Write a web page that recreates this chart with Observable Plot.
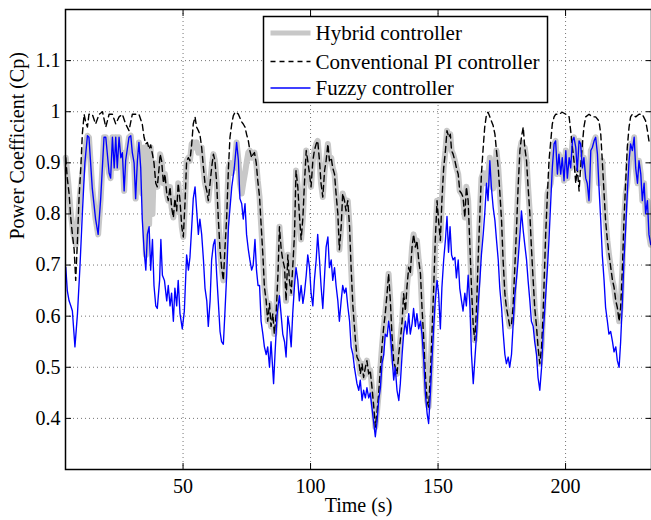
<!DOCTYPE html>
<html>
<head>
<meta charset="utf-8">
<script src="https://cdn.jsdelivr.net/npm/d3@7"></script>
<script src="https://cdn.jsdelivr.net/npm/@observablehq/plot@0.6"></script>
<style>
  html, body { margin: 0; padding: 0; background: #fff; }
  #wrap { position: relative; width: 651px; height: 520px; overflow: hidden; }
  #legend { position: absolute; left: 0; top: 0; pointer-events: none; }
</style>
</head>
<body>
<div id="wrap"></div>
<script>
// ---- data: [time (s), Cp] ----
const fuzzy = [
 [4.0,.696],[4.6,.65],[5.3,.63],[6.0,.62],[6.6,.61],[7.6,.54],[8.6,.605],[9.6,.70],[10.5,.80],[11.5,.90],
 [12.5,.953],[13.1,.95],[14.4,.85],[15.7,.79],[16.7,.76],[17.7,.83],[19.0,.95],[19.7,.95],[21.0,.88],[21.6,.87],
 [22.3,.95],[23.0,.89],[23.6,.95],[24.2,.89],[24.9,.95],[25.6,.91],[26.2,.92],[26.9,.845],[27.5,.905],[28.8,.95],
 [29.5,.953],[30.1,.92],[30.8,.90],[31.4,.83],[32.1,.905],[32.7,.94],[33.4,.89],[34.0,.79],[34.7,.73],[35.4,.69],
 [36.0,.76],[36.7,.775],[37.3,.69],[38.0,.75],[38.6,.66],[39.3,.62],[39.9,.615],[40.8,.67],[41.3,.75],[41.9,.68],
 [42.7,.67],[43.6,.63],[44.2,.66],[44.9,.62],[45.5,.645],[46.2,.59],[46.8,.655],[47.5,.62],[48.1,.67],[48.8,.605],
 [49.7,.575],[50.5,.61],[51.4,.72],[52.1,.69],[52.7,.715],[53.4,.775],[54.0,.83],[54.7,.853],[55.3,.81],[56.0,.76],
 [56.6,.79],[57.3,.76],[58.0,.71],[58.6,.655],[59.3,.63],[59.9,.58],[60.6,.63],[61.2,.71],[61.9,.74],[62.5,.75],
 [63.2,.68],[63.8,.63],[64.5,.57],[65.1,.55],[65.8,.545],[66.4,.605],[67.1,.68],[67.8,.775],[69.1,.853],[70.1,.89],
 [71.0,.94],[71.7,.905],[72.3,.83],[73.0,.82],[73.6,.79],[74.3,.82],[74.9,.76],[75.6,.73],[76.2,.71],[76.9,.69],
 [77.5,.70],[78.2,.75],[78.8,.69],[79.4,.66],[80.0,.66],[80.6,.59],[81.3,.565],[81.9,.54],[82.6,.525],[83.2,.54],
 [83.9,.50],[84.5,.55],[85.5,.468],[86.1,.53],[86.9,.605],[87.8,.64],[88.5,.60],[89.1,.565],[89.8,.55],[90.4,.52],
 [91.1,.60],[91.7,.58],[92.4,.54],[93.0,.605],[93.7,.66],[94.3,.695],[95.0,.67],[95.6,.63],[96.3,.66],[97.0,.625],
 [97.6,.645],[98.3,.68],[98.9,.72],[99.6,.695],[100.2,.645],[100.9,.62],[101.5,.67],[102.2,.71],[102.8,.76],[103.5,.71],
 [104.1,.66],[104.8,.615],[105.5,.68],[106.1,.735],[106.8,.755],[107.4,.695],[108.1,.71],[108.7,.67],[109.4,.695],[110.0,.66],
 [110.7,.63],[111.3,.59],[112.0,.63],[112.6,.66],[113.3,.645],[113.9,.655],[114.6,.62],[115.3,.59],[115.9,.54],[116.6,.525],
 [117.2,.50],[118.2,.468],[118.9,.455],[119.5,.475],[120.2,.435],[120.8,.455],[121.5,.44],[122.1,.46],[122.8,.44],[123.4,.45],
 [124.1,.42],[124.8,.39],[125.4,.364],[126.1,.395],[126.7,.435],[127.4,.46],[128.0,.507],[128.7,.525],[129.3,.565],[130.0,.56],
 [130.6,.59],[131.3,.565],[131.9,.525],[132.6,.475],[133.2,.50],[133.9,.455],[134.6,.435],[135.2,.468],[135.9,.525],[136.5,.565],
 [137.2,.59],[137.8,.565],[138.5,.605],[139.1,.565],[139.8,.585],[140.4,.615],[141.1,.58],[141.7,.605],[142.4,.575],[143.1,.59],
 [143.7,.565],[144.4,.513],[145.0,.45],[145.7,.41],[146.3,.39],[147.0,.45],[147.6,.513],[148.3,.58],[148.9,.63],[149.6,.67],
 [150.2,.645],[150.9,.575],[151.5,.655],[152.2,.71],[152.9,.75],[153.5,.795],[154.1,.725],[154.7,.775],[155.3,.72],[155.9,.71],
 [156.6,.715],[157.2,.675],[157.9,.71],[158.5,.655],[159.2,.63],[159.8,.61],[160.5,.645],[161.1,.62],[161.8,.68],[162.5,.62],
 [163.1,.525],[163.8,.468],[164.4,.513],[165.1,.565],[165.7,.62],[166.4,.67],[167.0,.72],[167.7,.76],[168.3,.80],[169.0,.86],
 [169.6,.826],[170.3,.904],[170.9,.853],[171.6,.813],[172.3,.787],[172.9,.75],[173.6,.71],[174.2,.655],[174.9,.617],[175.5,.57],
 [176.2,.525],[176.8,.507],[177.5,.52],[178.1,.50],[178.8,.525],[179.4,.58],[180.1,.64],[180.8,.675],[181.4,.71],[182.1,.76],
 [182.7,.806],[183.4,.767],[184.0,.74],[184.7,.71],[185.3,.67],[186.0,.63],[186.6,.59],[187.3,.58],[187.9,.55],[188.6,.525],
 [189.2,.48],[189.9,.455],[190.6,.50],[191.2,.565],[191.9,.617],[192.4,.655],[192.9,.695],[193.5,.75],[194.2,.826],[194.8,.89],
 [195.5,.937],[196.1,.943],[196.8,.878],[197.4,.917],[198.1,.878],[198.7,.91],[199.4,.865],[200.1,.924],[200.7,.87],[201.4,.91],
 [202.0,.89],[202.7,.943],[203.3,.95],[204.0,.93],[204.6,.885],[205.3,.943],[205.9,.937],[206.6,.89],[207.2,.91],[207.9,.87],
 [208.5,.86],[209.2,.826],[209.9,.924],[210.5,.93],[211.2,.943],[211.8,.95],[212.5,.917],[213.1,.853],[213.8,.787],[214.4,.72],
 [215.1,.67],[215.7,.617],[216.4,.59],[217.0,.565],[217.7,.57],[218.4,.55],[219.0,.53],[219.7,.54],[220.3,.513],[221.0,.50],
 [221.6,.55],[222.3,.63],[222.9,.71],[223.6,.775],[224.2,.84],[224.9,.904],[225.5,.937],[226.2,.924],[226.9,.95],[227.5,.89],
 [228.2,.86],[228.8,.904],[229.5,.878],[230.1,.826],[230.8,.86],[231.4,.80],[232.1,.826],[232.7,.76],[233.4,.74]
];
const conventionalPI = [
 [4.0,.91],[4.6,.87],[5.3,.84],[6.0,.79],[6.6,.76],[7.3,.73],[7.9,.67],[8.6,.75],[9.2,.83],[9.9,.89],
 [10.5,.956],[11.2,.995],[11.8,.98],[12.5,.97],[13.1,.995],[14.4,.995],[15.7,.976],[17.1,.995],[18.4,1.0],[19.7,.97],
 [21.0,.995],[22.3,.995],[23.6,.976],[24.9,.99],[26.2,.995],[27.5,.976],[28.8,.963],[30.1,.995],[31.4,.995],[32.7,.995],
 [34.0,.976],[34.7,.95],[35.4,.937],[36.0,.94],[36.7,.927],[37.3,.935],[38.0,.917],[38.6,.90],[39.3,.86],[39.9,.853],
 [40.6,.89],[41.0,.917],[41.6,.904],[42.3,.86],[42.9,.878],[43.6,.84],[44.2,.826],[44.9,.853],[45.5,.813],[46.2,.793],
 [46.8,.83],[47.5,.806],[48.1,.86],[48.8,.826],[49.5,.775],[50.1,.755],[50.8,.826],[51.4,.904],[52.1,.91],[52.7,.904],
 [53.4,.937],[54.0,.976],[54.7,.99],[55.3,.97],[56.0,.963],[56.6,.956],[57.3,.93],[58.0,.89],[58.6,.86],[59.3,.845],
 [59.9,.826],[60.6,.86],[61.2,.89],[61.9,.917],[62.5,.904],[63.2,.86],[63.8,.793],[64.5,.73],[65.1,.696],[65.8,.67],
 [66.4,.73],[67.1,.793],[67.8,.89],[68.4,.95],[69.1,.976],[69.7,.992],[70.4,.999],[71.0,.999],[71.7,.995],[73.0,.98],
 [73.6,.976],[74.3,.97],[74.9,.956],[75.6,.943],[76.2,.924],[76.9,.91],[77.5,.917],[78.0,.92],[78.7,.90],[79.3,.865],
 [80.0,.833],[80.6,.78],[81.3,.72],[81.9,.657],[82.6,.63],[83.2,.59],[83.9,.625],[84.5,.58],[85.2,.605],[85.8,.565],
 [86.5,.605],[87.2,.68],[87.8,.775],[88.5,.73],[89.1,.71],[89.8,.695],[90.4,.63],[91.1,.72],[91.7,.67],[92.4,.645],
 [93.0,.695],[93.7,.76],[94.3,.885],[95.0,.853],[95.6,.80],[96.3,.75],[97.0,.793],[97.6,.86],[98.3,.924],[98.9,.904],
 [99.6,.878],[100.2,.853],[100.9,.904],[101.5,.924],[102.2,.937],[102.8,.943],[103.5,.904],[104.1,.86],[104.8,.833],[105.5,.885],
 [106.1,.904],[106.8,.937],[107.4,.904],[108.1,.91],[108.7,.89],[109.4,.878],[110.0,.84],[110.7,.80],[111.3,.73],[112.0,.775],
 [112.6,.84],[113.3,.826],[113.9,.806],[114.6,.826],[115.3,.775],[115.9,.695],[116.6,.62],[117.6,.553],[118.2,.52],[118.9,.513],
 [119.5,.487],[120.2,.507],[120.8,.48],[121.5,.50],[122.1,.513],[122.8,.487],[123.4,.494],[124.1,.46],[124.8,.422],[125.4,.383],
 [126.1,.415],[126.7,.448],[127.4,.50],[128.0,.54],[128.7,.58],[129.3,.605],[130.0,.644],[130.6,.683],[131.3,.63],[131.9,.565],
 [132.6,.513],[133.2,.50],[133.9,.487],[134.6,.527],[135.2,.553],[135.9,.59],[136.5,.644],[137.2,.61],[137.8,.657],[138.5,.696],
 [139.1,.683],[139.8,.735],[140.4,.76],[141.1,.735],[141.7,.748],[142.4,.71],[143.1,.683],[143.7,.617],[144.4,.553],[145.0,.487],
 [145.7,.435],[146.3,.422],[147.0,.487],[147.6,.565],[148.3,.657],[148.9,.748],[149.6,.826],[150.2,.787],[150.9,.748],[151.5,.826],
 [152.2,.89],[152.9,.924],[153.5,.963],[154.2,.95],[154.8,.956],[155.3,.924],[155.9,.917],[156.6,.904],[157.2,.89],[157.9,.878],
 [158.5,.845],[159.2,.84],[159.8,.833],[160.5,.793],[161.1,.853],[161.8,.826],[162.5,.735],[163.1,.657],[163.8,.58],[164.4,.553],
 [165.1,.617],[165.7,.71],[166.4,.80],[167.0,.878],[167.7,.93],[168.3,.97],[169.0,.995],[169.6,.999],[170.3,.99],[170.9,.982],
 [171.6,.973],[172.3,.956],[172.9,.924],[173.6,.89],[174.2,.845],[174.9,.787],[175.5,.71],[176.2,.644],[176.8,.617],[177.5,.598],
 [178.1,.58],[178.8,.585],[179.4,.617],[180.1,.696],[180.8,.775],[181.4,.853],[182.1,.924],[182.7,.95],[183.4,.97],[184.0,.93],
 [184.7,.904],[185.3,.853],[186.0,.80],[186.6,.735],[187.3,.67],[187.9,.617],[188.6,.58],[189.2,.54],[189.9,.507],[190.6,.54],
 [191.2,.605],[191.7,.683],[192.2,.76],[192.9,.84],[193.5,.904],[194.2,.943],[194.8,.976],[195.5,.99],[196.1,.995],[197.4,.995],
 [198.7,.999],[200.1,.995],[201.4,.99],[202.0,.963],[202.7,.93],[203.3,.904],[204.0,.86],[204.6,.89],[205.3,.845],[205.9,.89],
 [206.6,.937],[207.2,.97],[207.9,.99],[209.2,.995],[210.5,.99],[211.8,.99],[213.1,.982],[213.8,.956],[214.4,.904],[215.1,.84],
 [215.7,.787],[216.4,.748],[217.0,.722],[217.7,.696],[218.4,.67],[219.0,.657],[219.7,.63],[220.3,.617],[221.0,.59],[221.6,.617],
 [222.3,.696],[222.9,.787],[223.6,.865],[224.2,.93],[224.9,.97],[225.5,.99],[226.2,.995],[227.5,.99],[228.8,.995],[230.1,.995],
 [231.4,.982],[232.1,.963],[232.7,.943],[233.4,.937]
];
const hybrid = [
 [4.0,.91],[5.0,.86],[6.0,.80],[7.0,.76],[8.0,.74],[9.0,.80],[9.6,.84],[10.5,.88],[11.5,.92],[12.5,.953],
 [13.1,.95],[14.4,.85],[15.7,.79],[16.7,.76],[17.7,.83],[19.0,.95],[19.7,.95],[21.0,.88],[21.6,.87],[22.3,.95],
 [23.0,.89],[23.6,.95],[24.2,.89],[24.9,.95],[25.6,.91],[26.2,.92],[26.9,.845],[27.5,.905],[28.8,.95],[29.5,.953],
 [30.1,.92],[30.8,.90],[31.4,.83],[32.1,.905],[32.7,.94],[33.4,.89],[34.0,.84],[34.7,.93],[35.4,.72],[36.0,.93],
 [36.7,.78],[37.3,.93],[38.0,.80],[38.6,.90],[39.3,.86],[39.9,.853],[40.6,.89],[41.0,.917],[41.6,.904],[42.3,.86],
 [42.9,.878],[43.6,.84],[44.2,.826],[44.9,.853],[45.5,.813],[46.2,.793],[46.8,.83],[47.5,.806],[48.1,.86],[48.8,.826],
 [49.5,.775],[50.1,.755],[50.8,.826],[51.4,.904],[52.1,.91],[52.7,.904],[53.4,.937],[54.0,.94],[54.7,.93],[55.3,.94],
 [56.0,.92],[56.6,.93],[57.3,.93],[58.0,.89],[58.6,.86],[59.3,.845],[59.9,.826],[60.6,.86],[61.2,.89],[61.9,.917],
 [62.5,.904],[63.2,.86],[63.8,.793],[64.5,.73],[65.1,.696],[65.8,.67],[66.4,.73],[67.1,.793],[67.8,.89],[68.4,.90],
 [69.1,.88],[69.7,.90],[70.1,.89],[71.0,.94],[71.7,.905],[72.3,.86],[73.0,.84],[73.6,.86],[74.3,.88],[74.9,.90],
 [75.6,.92],[76.2,.924],[76.9,.91],[77.5,.917],[78.0,.92],[78.7,.90],[79.3,.865],[80.0,.833],[80.6,.78],[81.3,.72],
 [81.9,.657],[82.6,.63],[83.2,.59],[83.9,.625],[84.5,.58],[85.2,.605],[85.8,.565],[86.5,.605],[87.2,.68],[87.8,.775],
 [88.5,.73],[89.1,.71],[89.8,.695],[90.4,.63],[91.1,.72],[91.7,.67],[92.4,.645],[93.0,.695],[93.7,.76],[94.3,.885],
 [95.0,.853],[95.6,.80],[96.3,.75],[97.0,.793],[97.6,.86],[98.3,.924],[98.9,.904],[99.6,.878],[100.2,.853],[100.9,.904],
 [101.5,.924],[102.2,.937],[102.8,.943],[103.5,.904],[104.1,.86],[104.8,.833],[105.5,.885],[106.1,.904],[106.8,.937],[107.4,.904],
 [108.1,.91],[108.7,.89],[109.4,.878],[110.0,.84],[110.7,.80],[111.3,.73],[112.0,.775],[112.6,.84],[113.3,.826],[113.9,.806],
 [114.6,.826],[115.3,.775],[115.9,.695],[116.6,.62],[117.6,.553],[118.2,.52],[118.9,.513],[119.5,.487],[120.2,.507],[120.8,.48],
 [121.5,.50],[122.1,.513],[122.8,.487],[123.4,.494],[124.1,.46],[124.8,.422],[125.4,.383],[126.1,.415],[126.7,.448],[127.4,.50],
 [128.0,.54],[128.7,.58],[129.3,.605],[130.0,.644],[130.6,.683],[131.3,.63],[131.9,.565],[132.6,.513],[133.2,.50],[133.9,.487],
 [134.6,.527],[135.2,.553],[135.9,.59],[136.5,.644],[137.2,.61],[137.8,.657],[138.5,.696],[139.1,.683],[139.8,.735],[140.4,.76],
 [141.1,.735],[141.7,.748],[142.4,.71],[143.1,.683],[143.7,.617],[144.4,.553],[145.0,.487],[145.7,.435],[146.3,.422],[147.0,.487],
 [147.6,.565],[148.3,.657],[148.9,.748],[149.6,.826],[150.2,.787],[150.9,.748],[151.5,.826],[152.2,.89],[152.9,.924],[153.5,.963],
 [154.2,.95],[154.8,.956],[155.3,.924],[155.9,.917],[156.6,.904],[157.2,.89],[157.9,.878],[158.5,.845],[159.2,.84],[159.8,.833],
 [160.5,.793],[161.1,.853],[161.8,.826],[162.5,.735],[163.1,.657],[163.8,.58],[164.4,.553],[165.1,.617],[165.7,.71],[166.4,.80],
 [167.0,.87],[167.7,.88],[168.3,.86],[169.0,.88],[169.6,.87],[170.3,.91],[170.9,.86],[171.6,.85],[172.3,.87],[172.9,.924],
 [173.6,.89],[174.2,.845],[174.9,.787],[175.5,.71],[176.2,.644],[176.8,.617],[177.5,.598],[178.1,.58],[178.8,.585],[179.4,.617],
 [180.1,.696],[180.8,.775],[181.4,.853],[182.1,.924],[182.7,.94],[183.4,.93],[184.0,.93],[184.7,.904],[185.3,.853],[186.0,.80],
 [186.6,.735],[187.3,.67],[187.9,.617],[188.6,.58],[189.2,.54],[189.9,.507],[190.6,.54],[191.2,.605],[191.7,.683],[192.2,.76],
 [192.9,.84],[193.5,.85],[194.2,.86],[194.8,.89],[195.5,.937],[196.1,.943],[196.8,.878],[197.4,.917],[198.1,.878],[198.7,.91],
 [199.4,.865],[200.1,.924],[200.7,.87],[201.4,.91],[202.0,.89],[202.7,.943],[203.3,.95],[204.0,.93],[204.6,.885],[205.3,.943],
 [205.9,.937],[206.6,.89],[207.2,.91],[207.9,.87],[208.5,.86],[209.2,.826],[209.9,.924],[210.5,.93],[211.2,.943],[211.8,.95],
 [212.5,.917],[213.1,.86],[213.8,.90],[214.4,.904],[215.1,.84],[215.7,.787],[216.4,.748],[217.0,.722],[217.7,.696],[218.4,.67],
 [219.0,.657],[219.7,.63],[220.3,.617],[221.0,.59],[221.6,.617],[222.3,.696],[222.9,.787],[223.6,.84],[224.2,.86],[224.9,.904],
 [225.5,.937],[226.2,.924],[226.9,.95],[227.5,.89],[228.2,.86],[228.8,.904],[229.5,.878],[230.1,.826],[230.8,.86],[231.4,.80],
 [232.1,.826],[232.7,.76],[233.4,.74]
];
const xTicks = [50, 100, 150, 200];
const yTicks = [0.4, 0.5, 0.6, 0.7, 0.8, 0.9, 1, 1.1];
const seriesNames = ["Hybrid controller", "Conventional PI controller", "Fuzzy controller"];
const seriesColors = ["#c8c8c8", "#000000", "#0000ff"];
const xLabel = "Time (s)";
const yLabel = "Power Coefficient (Cp)";

const font = "'Liberation Serif', 'Times New Roman', serif";
const noText = () => "";
const lineStyles = [
  {strokeWidth: 6, strokeDasharray: null},
  {strokeWidth: 1.4, strokeDasharray: "6,4"},
  {strokeWidth: 1.35, strokeDasharray: null}
];

const chart = Plot.plot({
  width: 651,
  height: 520,
  marginLeft: 65,
  marginRight: 0,
  marginTop: 9,
  marginBottom: 51,
  style: {fontFamily: font, fontSize: "20px", color: "#000", background: "#fff", overflow: "visible"},
  x: {domain: [3.9, 233.7]},
  y: {domain: [0.3, 1.2]},
  marks: [
    Plot.gridX(xTicks, {stroke: "#666", strokeOpacity: 0.9, strokeDasharray: "1,3"}),
    Plot.gridY(yTicks, {stroke: "#666", strokeOpacity: 0.9, strokeDasharray: "1,3"}),
    Plot.line(hybrid, {x: d => d[0], y: d => d[1], stroke: seriesColors[0], strokeWidth: lineStyles[0].strokeWidth, strokeLinejoin: "round"}),
    Plot.line(conventionalPI, {x: d => d[0], y: d => d[1], stroke: seriesColors[1], strokeWidth: lineStyles[1].strokeWidth, strokeDasharray: lineStyles[1].strokeDasharray}),
    Plot.line(fuzzy, {x: d => d[0], y: d => d[1], stroke: seriesColors[2], strokeWidth: lineStyles[2].strokeWidth}),
    Plot.frame({stroke: "#000", strokeWidth: 1.5}),
    // inward ticks on all four sides
    Plot.axisX(xTicks, {anchor: "bottom", tickSize: 6, dy: -6, tickFormat: noText, label: null}),
    Plot.axisX(xTicks, {anchor: "top", tickSize: 6, dy: 6, tickFormat: noText, label: null}),
    Plot.axisY(yTicks, {anchor: "left", tickSize: 6, dx: 6, tickFormat: noText, label: null}),
    Plot.axisY(yTicks, {anchor: "right", tickSize: 6, dx: -6, tickFormat: noText, label: null}),
    // tick labels
    Plot.axisX(xTicks, {anchor: "bottom", tickSize: 0, tickPadding: 9, fontSize: 20, fontFamily: font, label: null}),
    Plot.axisY(yTicks, {anchor: "left", tickSize: 0, tickPadding: 5, fontSize: 20, fontFamily: font, label: null,
      tickFormat: d => String(d)}),
    // axis titles
    Plot.text([xLabel], {frameAnchor: "bottom", dy: 42, lineAnchor: "bottom", fontSize: 20, fontFamily: font, text: d => d}),
    Plot.text([yLabel], {frameAnchor: "left", dx: -48, rotate: -90, lineAnchor: "middle", fontSize: 20, fontFamily: font, text: d => d})
  ]
});

const wrap = document.getElementById("wrap");
wrap.appendChild(chart);

// ---- legend overlay (inside the axes, top centre) ----
const lg = d3.select(wrap).append("svg")
  .attr("id", "legend")
  .attr("width", 651).attr("height", 520);
const box = {x: 263.5, y: 16.5, w: 284, h: 86};
lg.append("rect")
  .attr("x", box.x).attr("y", box.y).attr("width", box.w).attr("height", box.h)
  .attr("fill", "#fff").attr("stroke", "#000").attr("stroke-width", 1.5);
const rowY = [33, 61.5, 88];
seriesNames.forEach((name, i) => {
  const ln = lg.append("line")
    .attr("x1", box.x + 7).attr("x2", box.x + 47)
    .attr("y1", rowY[i]).attr("y2", rowY[i])
    .attr("stroke", seriesColors[i]).attr("stroke-width", i === 0 ? 5 : lineStyles[i].strokeWidth);
  if (lineStyles[i].strokeDasharray) ln.attr("stroke-dasharray", "5,4");
  lg.append("text")
    .attr("x", box.x + 52).attr("y", rowY[i])
    .attr("dy", "0.35em")
    .attr("font-family", font).attr("font-size", 21)
    .attr("fill", "#000")
    .text(name);
});
</script>
</body>
</html>
